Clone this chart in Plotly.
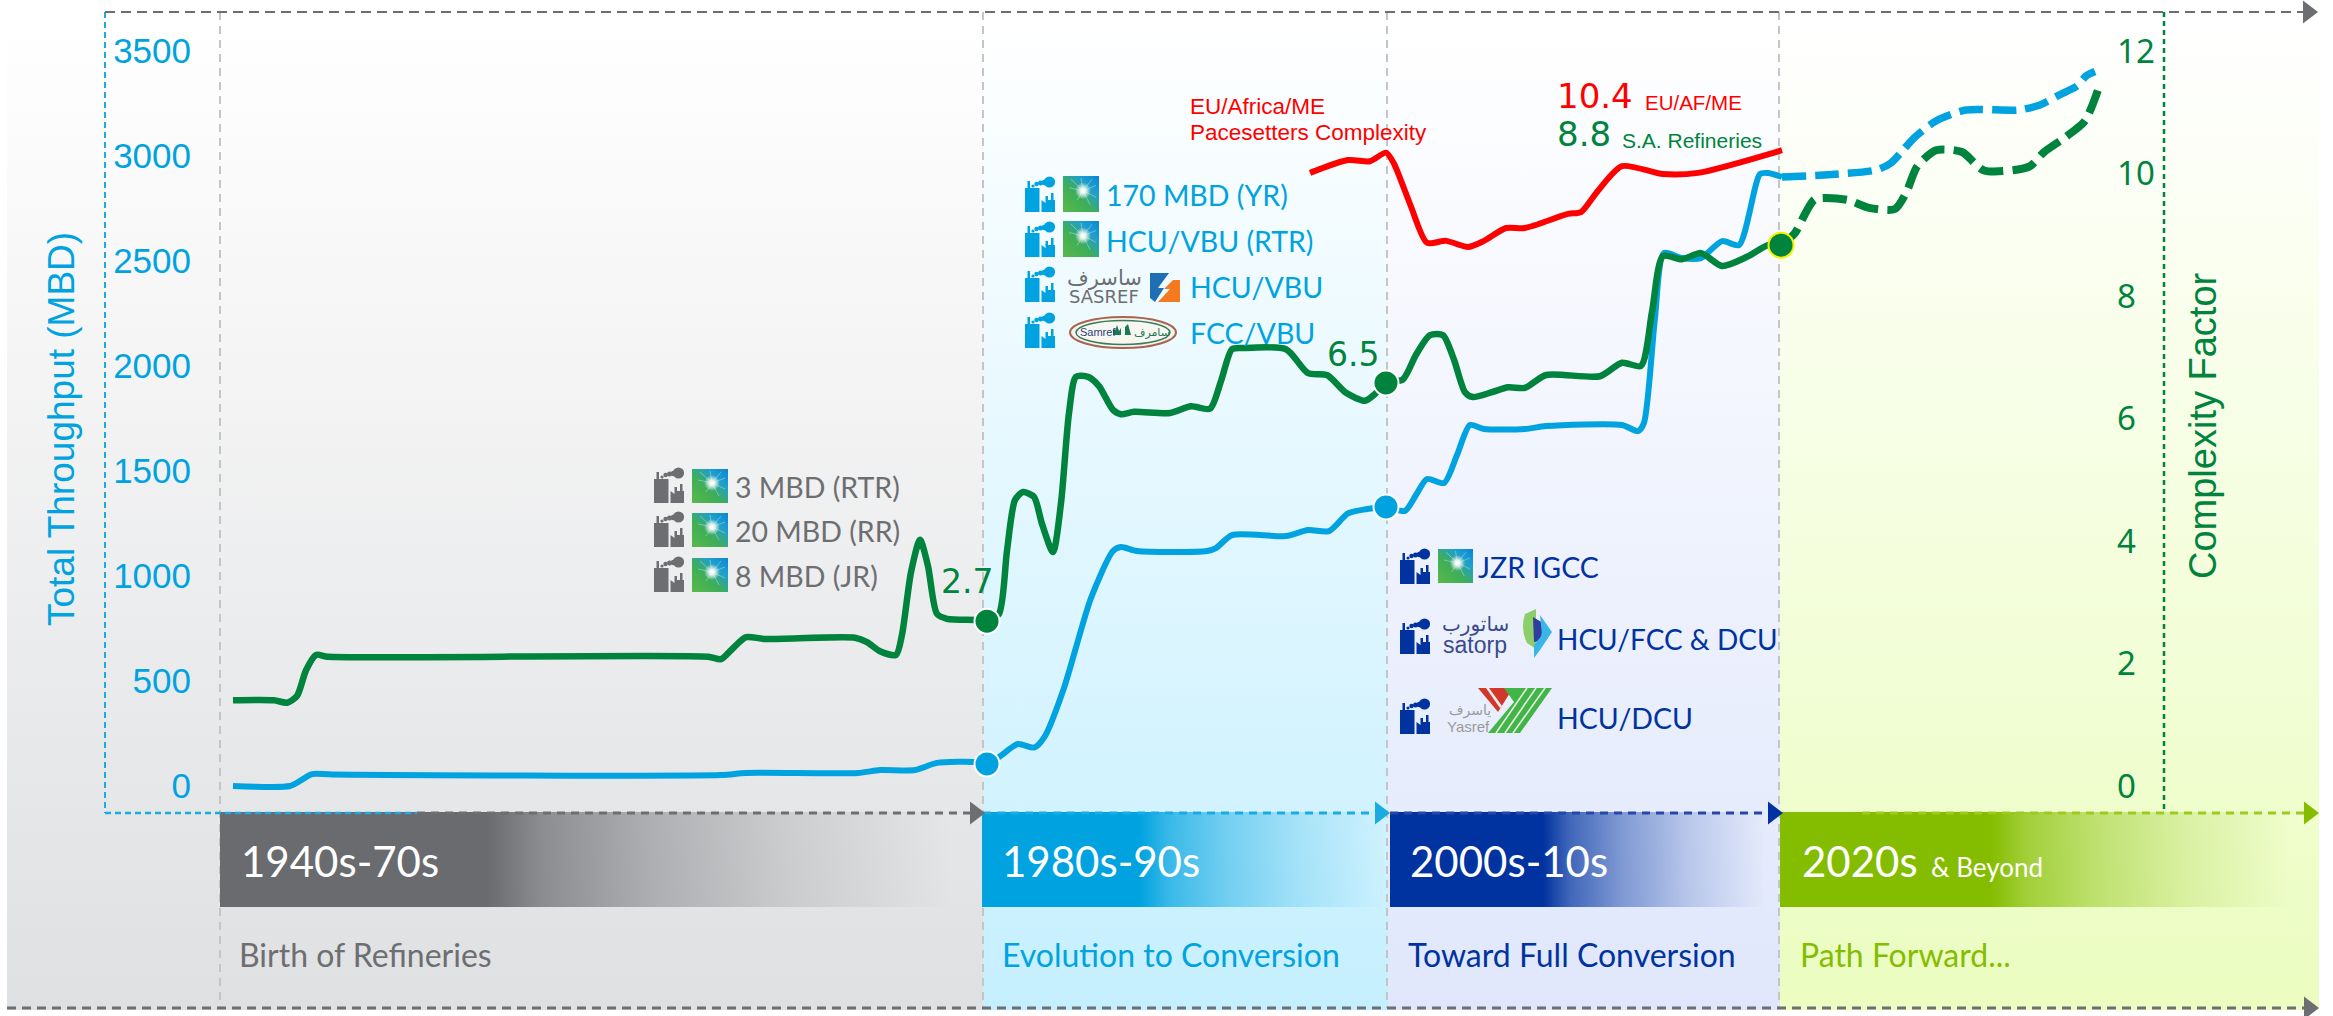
import base64
import plotly.graph_objects as go

W, H = 2333, 1016

# ---------- data (x = position along the timeline axis) ----------
mbd_x = [233, 290, 300, 312, 332, 721, 746, 858, 880, 915, 937, 976, 987, 999, 1018, 1034, 1045, 1064, 1091, 1113,
         1121, 1137, 1207, 1216, 1232, 1286, 1308, 1329, 1348, 1367, 1386, 1405, 1416, 1427, 1444, 1457, 1470, 1484,
         1525, 1546, 1622, 1638, 1644, 1655, 1664, 1682, 1701, 1722, 1739, 1760, 1768, 1782]
mbd_y = [0, 0, 24, 57, 55, 52, 62, 62, 76, 76, 110, 114, 105, 138, 200, 183, 238, 467, 895, 1119,
         1138, 1119, 1119, 1133, 1195, 1190, 1219, 1214, 1298, 1319, 1329, 1310, 1386, 1462, 1443, 1576, 1719, 1700,
         1700, 1714, 1719, 1690, 1729, 2229, 2538, 2514, 2514, 2595, 2576, 2914, 2919, 2900]
mbd_fc_x = [1782, 1824, 1876, 1891, 1904, 1914, 1936, 1966, 2018, 2040, 2059, 2077, 2086, 2095]
mbd_fc_y = [2900, 2910, 2933, 2967, 3033, 3086, 3167, 3219, 3219, 3243, 3290, 3333, 3381, 3402]

cf_x = [233, 274, 287, 297, 306, 316, 328, 708, 721, 733, 746, 765, 855, 867, 880, 896, 902, 911, 920, 928, 937, 947,
        976, 987, 999, 1007, 1015, 1023, 1034, 1042, 1053, 1061, 1069, 1076, 1088, 1099, 1113, 1121, 1134, 1170, 1191,
        1210, 1221, 1232, 1243, 1286, 1308, 1327, 1346, 1365, 1375, 1386, 1403, 1416, 1430, 1443, 1454, 1465, 1473,
        1492, 1508, 1525, 1546, 1600, 1622, 1641, 1652, 1663, 1682, 1701, 1722, 1747, 1768, 1781]
cf_y = [1.40, 1.40, 1.36, 1.47, 1.89, 2.14, 2.11, 2.11, 2.07, 2.25, 2.43, 2.40, 2.42, 2.35, 2.20, 2.14, 2.47, 3.49,
        4.02, 3.59, 2.81, 2.73, 2.71, 2.69, 2.81, 3.84, 4.67, 4.80, 4.72, 4.28, 3.82, 4.62, 6.09, 6.68, 6.68, 6.53,
        6.14, 6.07, 6.11, 6.09, 6.20, 6.16, 6.61, 7.13, 7.15, 7.13, 6.74, 6.71, 6.42, 6.29, 6.40, 6.58, 6.64, 7.04,
        7.36, 7.36, 6.96, 6.43, 6.35, 6.43, 6.51, 6.50, 6.71, 6.69, 6.91, 6.86, 7.74, 8.65, 8.60, 8.70, 8.49, 8.64,
        8.83, 8.83]
cf_fc_x = [1781, 1795, 1806, 1815, 1847, 1869, 1895, 1906, 1917, 1936, 1962, 1984, 2029, 2044, 2066, 2085, 2099]
cf_fc_y = [8.83, 9.03, 9.37, 9.58, 9.57, 9.44, 9.42, 9.68, 10.11, 10.38, 10.35, 10.05, 10.11, 10.35, 10.60, 10.86, 11.41]

eu_x = [1310, 1348, 1370, 1386, 1394, 1411, 1427, 1446, 1468, 1484, 1506, 1525, 1568, 1581, 1598, 1622, 1663, 1698, 1782]
eu_y = [10.01, 10.22, 10.20, 10.34, 10.16, 9.46, 8.87, 8.90, 8.80, 8.90, 9.11, 9.11, 9.34, 9.37, 9.72, 10.12, 9.99, 10.01, 10.38]

cf_marker_x = [987, 1386]
cf_marker_y = [2.69, 6.58]
cf_now_x = [1781]
cf_now_y = [8.83]
mbd_marker_x = [987, 1386]
mbd_marker_y = [105, 1329]

mbd_ticks = [0, 500, 1000, 1500, 2000, 2500, 3000, 3500]
cf_ticks = [0, 2, 4, 6, 8, 10, 12]

eras = ["1940s-70s", "1980s-90s", "2000s-10s", "2020s"]
era_notes = ["Birth of Refineries", "Evolution to Conversion", "Toward Full Conversion", "Path Forward..."]

# ---------- palette ----------
GRAY, BLUE, NAVY, LIME, GREEN, RED = "#6d6e71", "#00a3e0", "#0033a0", "#84bd00", "#00843d", "#ff0000"
F_TICK_L = "Liberation Sans"
F_WIDE = "DejaVu Sans"
F_NOTO = "Noto Sans"
F_ERA = "Lato"
SMOOTH = 0.7

fig = go.Figure()


def rect(x0, x1, y0, y1, **grad):
    fig.add_trace(go.Scatter(x=[x0, x1, x1, x0, x0], y=[y0, y0, y1, y1, y0], fill="toself", mode="none",
                             fillgradient=grad, hoverinfo="skip", showlegend=False))


def rule(x0, y0, x1, y1, color, width, dash):
    fig.add_trace(go.Scatter(x=[x0, x1], y=[y0, y1], mode="lines", hoverinfo="skip", showlegend=False,
                             line=dict(color=color, width=width, dash=dash)))


def head(x, y, color, size=20):
    fig.add_trace(go.Scatter(x=[x], y=[y], mode="markers", hoverinfo="skip", showlegend=False,
                             marker=dict(symbol="triangle-right", size=size, color=color, line=dict(width=0))))


# column backgrounds
columns = [(7, 983, "#dfe0e2"), (983, 1388, "#c5effe"), (1388, 1780, "#e0e7fc"), (1780, 2319, "#ebfdc0")]
for x0, x1, c in columns:
    rect(x0, x1, 0, 1010, type="vertical", start=20, stop=1010,
         colorscale=[[0, "#ffffff"], [1, c]])

# dashed frame
for vx in [220, 983, 1387, 1779]:
    rule(vx, 12, vx, 1008, "#c3c5c7", 2, "8px,6px")
rule(105, 12, 105, 813, "#19ace3", 2, "6px,4px")
rule(105, 12, 2303, 12, GRAY, 2, "10px,6px")
rule(2164, 12, 2164, 812, GREEN, 2.5, "5px,4px")

# era bands
bands = [(220, 982, 487, 950, "105,107,111"),
         (982, 1388, 1140, 1385, "0,163,224"),
         (1390, 1780, 1543, 1765, "0,51,160"),
         (1780, 2316, 1991, 2290, "132,189,0")]
for x0, x1, solid_to, fade_to, rgb in bands:
    span, run = x1 - x0, fade_to - solid_to
    stops = [[0, f"rgba({rgb},1)"], [(solid_to - x0) / span, f"rgba({rgb},1)"]]
    for t, alpha in [(0.12, 0.72), (0.35, 0.45), (0.65, 0.2), (1.0, 0.0)]:
        stops.append([(solid_to + t * run - x0) / span, f"rgba({rgb},{alpha})"])
    stops.append([1, f"rgba({rgb},0)"])
    rect(x0, x1, 812, 907, type="horizontal", start=x0, stop=x1, colorscale=stops)

rule(105, 813, 417, 813, "#19ace3", 2.5, "6px,4px")
rule(417, 813, 972, 813, GRAY, 3, "8px,6px")
rule(983, 813, 1376, 813, "#19ace3", 3, "8px,6px")
rule(1390, 813, 1770, 813, "#2548a8", 3, "8px,6px")
rule(1862, 813, 2304, 813, "#9ccb1e", 3, "8px,6px")
rule(7, 1008, 2304, 1008, GRAY, 3, "9px,6px")
head(975, 813, GRAY)
head(1380, 813, "#19ace3")
head(1773, 813, NAVY)
head(2309, 813, LIME)
head(2308, 12, GRAY)
head(2309, 1008, GRAY)

# series
common = dict(mode="lines", hoverinfo="skip", showlegend=False)
fig.add_trace(go.Scatter(x=mbd_x, y=mbd_y, yaxis="y2", name="Total Throughput", **common,
                         line=dict(color=BLUE, width=6, shape="spline", smoothing=SMOOTH)))
fig.add_trace(go.Scatter(x=mbd_fc_x, y=mbd_fc_y, yaxis="y2", name="Throughput outlook", **common,
                         line=dict(color=BLUE, width=7.5, shape="spline", smoothing=SMOOTH, dash="24px,9px")))
fig.add_trace(go.Scatter(x=eu_x, y=eu_y, yaxis="y3", name="EU/Africa/ME Pacesetters", **common,
                         line=dict(color=RED, width=6, shape="spline", smoothing=SMOOTH)))
fig.add_trace(go.Scatter(x=cf_x, y=cf_y, yaxis="y3", name="S.A. Refineries", **common,
                         line=dict(color=GREEN, width=6.5, shape="spline", smoothing=SMOOTH)))
fig.add_trace(go.Scatter(x=cf_fc_x, y=cf_fc_y, yaxis="y3", name="Complexity outlook", **common,
                         line=dict(color=GREEN, width=8, shape="spline", smoothing=SMOOTH, dash="24px,9px")))
fig.add_trace(go.Scatter(x=mbd_marker_x, y=mbd_marker_y, yaxis="y2", mode="markers", hoverinfo="skip", showlegend=False,
                         marker=dict(size=25, color=BLUE, line=dict(color="white", width=2))))
fig.add_trace(go.Scatter(x=cf_marker_x, y=cf_marker_y, yaxis="y3", mode="markers", hoverinfo="skip", showlegend=False,
                         marker=dict(size=25, color=GREEN, line=dict(color="white", width=2))))
fig.add_trace(go.Scatter(x=cf_now_x, y=cf_now_y, yaxis="y3", mode="markers", hoverinfo="skip", showlegend=False,
                         marker=dict(size=25, color=GREEN, line=dict(color="#f5f000", width=2))))

# ---------- logos ----------
images = []


def uri(svg):
    return "data:image/svg+xml;base64," + base64.b64encode(svg.encode()).decode()


def place(svg, x0, y0, x1, y1):
    images.append(dict(source=uri(svg), xref="paper", yref="paper", x=x0 / W, y=1 - y0 / H, sizex=(x1 - x0) / W,
                       sizey=(y1 - y0) / H, xanchor="left", yanchor="top", sizing="stretch", layer="above"))


def factory(c):
    return (f'<svg xmlns="http://www.w3.org/2000/svg" viewBox="0 0 30 36" preserveAspectRatio="none"><g fill="{c}">'
            '<path d="M0 36V12H2.5V5H5V12H14.5V36Z"/><path d="M16.5 36V24L20.5 27V20H23V24H26V17H28.5V24H30V36Z"/>'
            '<circle cx="8" cy="10" r="1.6"/><circle cx="11.5" cy="8" r="2.2"/><circle cx="15.5" cy="7" r="2.5"/>'
            '<circle cx="19.5" cy="6.5" r="2.8"/><circle cx="24.5" cy="6" r="5.6"/></g></svg>')


ARAMCO = ('<svg xmlns="http://www.w3.org/2000/svg" viewBox="0 0 36 34" preserveAspectRatio="none"><defs>'
          '<linearGradient id="a" x1="0" y1="1" x2="1" y2="0"><stop offset="0" stop-color="#58b947"/>'
          '<stop offset=".42" stop-color="#3fae58"/><stop offset=".72" stop-color="#1f9fcf"/>'
          '<stop offset="1" stop-color="#0a86d2"/></linearGradient>'
          '<radialGradient id="b"><stop offset="0" stop-color="#fff"/><stop offset=".3" stop-color="#f4fbf4" stop-opacity=".95"/>'
          '<stop offset="1" stop-color="#fff" stop-opacity="0"/></radialGradient></defs>'
          '<rect width="36" height="34" fill="url(#a)"/><g stroke="#fff" stroke-width=".6" opacity=".55">'
          '<path d="M20 14L8 3M20 14L29 3M20 14L33 9M20 14L33 20M20 14L27 27M20 14L14 23M20 14L6 11M20 14L18 2"/></g>'
          '<circle cx="20" cy="14" r="8" fill="url(#b)"/></svg>')

SASREF = ('<svg xmlns="http://www.w3.org/2000/svg" viewBox="0 0 31 30" preserveAspectRatio="none">'
          '<path d="M1 1H20L9 16H15L6 30L1 26Z" fill="#1f6fb5"/><path d="M31 8V30H9L21 17H15L24 8Z" fill="#f47a20"/></svg>')

SAMREF = ('<svg xmlns="http://www.w3.org/2000/svg" viewBox="0 0 108 33" preserveAspectRatio="none">'
          '<ellipse cx="54" cy="16.5" rx="53" ry="15.5" fill="#f4f4ee" stroke="#a8644e" stroke-width="2"/>'
          '<ellipse cx="54" cy="16.5" rx="47" ry="12" fill="#f7f7f2" stroke="#3a7a5a" stroke-width="1.5"/>'
          '<path d="M44 19V12L46 15L48 9L50 15L52 12V19ZM56 19V11L59 8L62 19Z" fill="#1a7a50"/></svg>')

SATORP = ('<svg xmlns="http://www.w3.org/2000/svg" viewBox="0 0 33 49" preserveAspectRatio="none">'
          '<path d="M6 5L17 0V40L8 34Q1 20 6 5Z" fill="#8ccf6a"/><path d="M14 8L24 14L22 32L15 33Z" fill="#2f3e9e"/>'
          '<path d="M21 6L33 23L21 41L15 49V36L23 26Z" fill="#39b5e8"/></svg>')

YASREF = ('<svg xmlns="http://www.w3.org/2000/svg" viewBox="0 0 74 45" preserveAspectRatio="none">'
          '<path d="M0 0H35L25 16L20 24Z" fill="#d2382a"/><path d="M8 0H11L24 18L22 20Z" fill="#eee"/>'
          '<path d="M40 0H74L42 45H10L36 14L26 0Z" fill="#42b549"/>'
          '<path d="M49 0L18 45M58 0L27 45M67 0L35 45" stroke="#e8f0e0" stroke-width="1.6"/></svg>')

for y0 in [467, 511, 556]:
    place(factory(GRAY), 654, y0, 684, y0 + 36)
    place(ARAMCO, 692, y0 + 2, 728, y0 + 36)
for y0 in [176, 221, 266, 312]:
    place(factory(BLUE), 1025, y0, 1055, y0 + 36)
for y0 in [176, 221]:
    place(ARAMCO, 1063, y0, 1099, y0 + 36)
place(SASREF, 1149, 272, 1180, 302)
place(SAMREF, 1069, 316, 1177, 349)
for y0 in [548, 618, 698]:
    place(factory(NAVY), 1400, y0, 1430, y0 + 36)
place(ARAMCO, 1438, 549, 1473, 583)
place(SATORP, 1519, 609, 1552, 658)
place(YASREF, 1478, 688, 1552, 733)

# ---------- text ----------
ann = []


def text(s, x, y, size, color, family=F_TICK_L, anchor="left", angle=0, weight=None):
    f = dict(size=size, color=color, family=family)
    if weight:
        f["weight"] = weight
    ann.append(dict(text=s, xref="paper", yref="paper", x=x / W, y=1 - y / H, xanchor=anchor, yanchor="middle",
                    showarrow=False, font=f, textangle=angle, borderpad=0, borderwidth=0))


text("Total Throughput (MBD)", 61, 429, 37, BLUE, F_TICK_L, "center", -90)
text("Complexity Factor", 2203, 426, 38, GREEN, F_TICK_L, "center", -90)

for s, y in [("3 MBD (RTR)", 487), ("20 MBD (RR)", 531), ("8 MBD (JR)", 576)]:
    text(s, 735, y, 28.5, GRAY, F_ERA)
text("2.7", 941, 581, 33, GREEN, F_WIDE)
text("6.5", 1327, 354, 33, GREEN, F_WIDE)
text("170 MBD (YR)", 1106, 195, 28.5, BLUE, F_ERA)
text("HCU/VBU (RTR)", 1106, 241, 28.5, BLUE, F_ERA)
text("HCU/VBU", 1190, 287, 28.5, BLUE, F_ERA)
text("FCC/VBU", 1190, 333, 28.5, BLUE, F_ERA)
text("ساسرف", 1104, 278, 21, "#6d6e71", F_WIDE, "center")
text("SASREF", 1104, 297, 18, "#6d6e71", F_WIDE, "center")
text("Samref", 1080, 332, 11, "#2f3e7e", F_TICK_L)
text("سامرف", 1152, 332, 11, "#1a7a50", F_WIDE, "center")
text("EU/Africa/ME", 1190, 106, 22.5, RED, F_TICK_L)
text("Pacesetters Complexity", 1190, 132, 22.5, RED, F_TICK_L)
text("10.4", 1557, 96, 34, RED, F_WIDE)
text("EU/AF/ME", 1645, 102, 20.5, RED, F_TICK_L)
text("8.8", 1557, 134, 34, GREEN, F_WIDE)
text("S.A. Refineries", 1622, 141, 21, GREEN, F_TICK_L)
text("JZR IGCC", 1478, 567, 28.5, NAVY, F_ERA)
text("HCU/FCC &amp; DCU", 1557, 639, 28, NAVY, F_ERA)
text("HCU/DCU", 1557, 718, 28.5, NAVY, F_ERA)
text("ساتورب", 1475, 624, 20, "#3a4a8c", F_WIDE, "center")
text("satorp", 1475, 645, 23, "#3a4a8c", F_TICK_L, "center")
text("ياسرف", 1470, 710, 14, "#9a9a9a", F_WIDE, "center")
text("Yasref", 1468, 726, 15, "#9a9a9a", F_TICK_L, "center")

for s, x in zip(eras, [241, 1002, 1410, 1802]):
    text(s, x, 861, 42, "white", F_ERA)
text("&amp; Beyond", 1931, 867, 26, "white", F_ERA)
for s, x, c in zip(era_notes, [239, 1002, 1408, 1800], [GRAY, BLUE, NAVY, LIME]):
    text(s, x, 954, 32, c, F_ERA)

# ---------- layout ----------
tick_y2_top, tick_y2_bottom = 786 / 0.21, (786 - H) / 0.21
tick_y3_top, tick_y3_bottom = 786 / 61.25, (786 - H) / 61.25
fig.update_layout(
    width=W, height=H, autosize=False, margin=dict(l=0, r=0, t=0, b=0, pad=0),
    paper_bgcolor="white", plot_bgcolor="rgba(0,0,0,0)", showlegend=False,
    images=images, annotations=ann,
    xaxis=dict(range=[0, W], visible=False, domain=[0, 1], fixedrange=True),
    yaxis=dict(range=[H, 0], visible=False, domain=[0, 1], fixedrange=True),
    yaxis2=dict(range=[tick_y2_bottom, tick_y2_top], overlaying="y", anchor="free", position=191 / W, side="left",
                tickvals=mbd_ticks, ticktext=[str(v) for v in mbd_ticks], ticks="", showgrid=False, zeroline=False,
                showline=False, automargin=False, tickfont=dict(family=F_TICK_L, size=35, color=BLUE), fixedrange=True),
    yaxis3=dict(range=[tick_y3_bottom, tick_y3_top], overlaying="y", anchor="free", position=2116 / W, side="right",
                tickvals=cf_ticks, ticktext=[str(v) for v in cf_ticks], ticks="", showgrid=False, zeroline=False,
                showline=False, automargin=False, tickfont=dict(family=F_NOTO, size=33, color=GREEN), fixedrange=True),
)

fig.write_html("out.html", config=dict(displayModeBar=False),
               post_script="document.body.style.margin='0';document.body.style.overflow='hidden';")
